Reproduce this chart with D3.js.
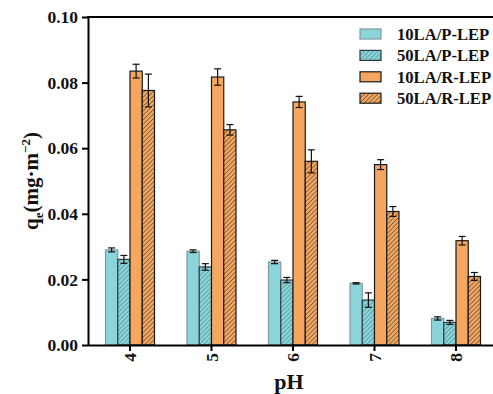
<!DOCTYPE html>
<html>
<head>
<meta charset="utf-8">
<script src="https://cdn.jsdelivr.net/npm/d3@7"></script>
<style>
  body { margin: 0; background: #fff; }
  svg { font-family: "Liberation Serif", "Times New Roman", serif; font-weight: bold; }
</style>
</head>
<body>
<svg width="493" height="394"></svg>
<script>
// data
const phs = ["4", "5", "6", "7", "8"];
const seriesNames = ["10LA/P-LEP", "50LA/P-LEP", "10LA/R-LEP", "50LA/R-LEP"];
const p10 = [0.0290, 0.0286, 0.0253, 0.0188, 0.0081];
const p10Err = [0.0006, 0.0004, 0.0005, 0.0002, 0.0005];
const p50 = [0.0261, 0.0238, 0.0198, 0.0137, 0.0069];
const p50Err = [0.0012, 0.0010, 0.0008, 0.0022, 0.0006];
const r10 = [0.0835, 0.0817, 0.0741, 0.0550, 0.0318];
const r10Err = [0.0021, 0.0025, 0.0017, 0.0015, 0.0013];
const r50 = [0.0776, 0.0656, 0.0560, 0.0407, 0.0209];
const r50Err = [0.0050, 0.0016, 0.0035, 0.0015, 0.0012];
const yTicks = [0, 0.02, 0.04, 0.06, 0.08, 0.10];

const allVals = [p10, p50, r10, r50];
const allErrs = [p10Err, p50Err, r10Err, r50Err];
const fills = ["#8ad4da", "url(#hatchC)", "#f5a65f", "url(#hatchO)"];
const strokes = ["#7f9a9c", "#2a3a3c", "#1a1a1a", "#1a1a1a"];

const svg = d3.select("svg");
const defs = svg.append("defs");

function hatch(id, bg, line) {
  const p = defs.append("pattern")
    .attr("id", id)
    .attr("patternUnits", "userSpaceOnUse")
    .attr("width", 3.2).attr("height", 3.2)
    .attr("patternTransform", "rotate(45)");
  p.append("rect").attr("width", 3.2).attr("height", 3.2).attr("fill", bg);
  p.append("line").attr("x1", 0).attr("y1", 0).attr("x2", 0).attr("y2", 3.2)
    .attr("stroke", line).attr("stroke-width", 1);
}
hatch("hatchC", "#8ad4da", "#3f7479");
hatch("hatchO", "#f5a65f", "#2a2a2a");

const plotL = 88, plotT = 17, plotB = 345;

const x = d3.scaleBand().domain(phs).range([89.25, 496.75]).padding(0);
const sub = d3.scaleBand().domain(seriesNames).range([-24.5, 24.5]).padding(0);
const y = d3.scaleLinear().domain([0, 0.10]).range([plotB, plotT]);

// bars
const rows = [];
seriesNames.forEach((s, si) => {
  phs.forEach((ph, i) => {
    rows.push({ s, si, ph, v: allVals[si][i], e: allErrs[si][i] });
  });
});

const g = svg.append("g");
g.selectAll("rect.bar")
  .data(rows)
  .enter()
  .append("rect")
  .attr("class", "bar")
  .attr("x", d => x(d.ph) + x.bandwidth() / 2 + sub(d.s))
  .attr("y", d => y(d.v))
  .attr("width", sub.bandwidth())
  .attr("height", d => plotB - y(d.v))
  .attr("fill", d => fills[d.si])
  .attr("stroke", d => strokes[d.si])
  .attr("stroke-width", 1.2);

// error bars
const cx = d => x(d.ph) + x.bandwidth() / 2 + sub(d.s) + sub.bandwidth() / 2;
const eg = g.selectAll("g.err").data(rows).enter().append("g")
  .attr("stroke", "#111").attr("stroke-width", 1.2);
eg.append("line").attr("x1", cx).attr("x2", cx)
  .attr("y1", d => y(d.v + d.e)).attr("y2", d => y(d.v - d.e));
eg.append("line").attr("x1", d => cx(d) - 3.5).attr("x2", d => cx(d) + 3.5)
  .attr("y1", d => y(d.v + d.e)).attr("y2", d => y(d.v + d.e));
eg.append("line").attr("x1", d => cx(d) - 3.5).attr("x2", d => cx(d) + 3.5)
  .attr("y1", d => y(d.v - d.e)).attr("y2", d => y(d.v - d.e));

// axes
const yAxis = svg.append("g")
  .attr("transform", `translate(${plotL},0)`)
  .call(d3.axisLeft(y).tickValues(yTicks).tickFormat(d3.format(".2f")).tickSize(6).tickSizeOuter(0));
yAxis.select(".domain").attr("stroke-width", 2);
yAxis.selectAll(".tick line").attr("stroke-width", 2);
yAxis.selectAll(".tick text")
  .attr("x", -10)
  .style("font-family", "Liberation Serif").style("font-weight", "bold")
  .style("font-size", "17.5px").attr("fill", "#111");

const xAxis = svg.append("g")
  .attr("transform", `translate(0,${plotB})`)
  .call(d3.axisBottom(x).tickSize(6).tickSizeOuter(0));
xAxis.select(".domain").attr("d", `M${plotL},0.5H500`).attr("stroke-width", 2);
xAxis.selectAll(".tick line").attr("stroke-width", 2);
xAxis.selectAll(".tick text")
  .attr("transform", "rotate(-90)")
  .attr("x", -8).attr("y", 0).attr("dy", "0.35em")
  .attr("text-anchor", "end")
  .style("font-family", "Liberation Serif").style("font-weight", "bold")
  .style("font-size", "17.5px").attr("fill", "#111");

// top frame line
svg.append("line")
  .attr("x1", plotL - 1).attr("x2", 500)
  .attr("y1", plotT).attr("y2", plotT)
  .attr("stroke", "#000").attr("stroke-width", 2);

// axis titles
svg.append("text")
  .attr("x", 289).attr("y", 389)
  .attr("text-anchor", "middle")
  .style("font-size", "22px").attr("fill", "#111")
  .text("pH");

const yt = svg.append("text")
  .attr("transform", "translate(38,181) rotate(-90)")
  .attr("text-anchor", "middle")
  .style("font-size", "21px").attr("fill", "#111");
yt.append("tspan").text("q");
yt.append("tspan").attr("dy", 5).style("font-size", "13px").text("e");
yt.append("tspan").attr("dy", -5).text("(mg·m");
yt.append("tspan").attr("dy", -8).style("font-size", "13px").text("−2");
yt.append("tspan").attr("dy", 8).text(")");

// legend
const leg = svg.append("g").attr("transform", "translate(360,29)");
const li = leg.selectAll("g").data(seriesNames).enter().append("g")
  .attr("transform", (d, i) => `translate(0,${i * 21.4})`);
li.append("rect")
  .attr("width", 21).attr("height", 10)
  .attr("fill", (d, i) => fills[i])
  .attr("stroke", (d, i) => strokes[i])
  .attr("stroke-width", 1.2);
li.append("text")
  .attr("x", 37).attr("y", 11)
  .style("font-size", "16.6px").attr("fill", "#111")
  .text(d => d);
</script>
</body>
</html>
